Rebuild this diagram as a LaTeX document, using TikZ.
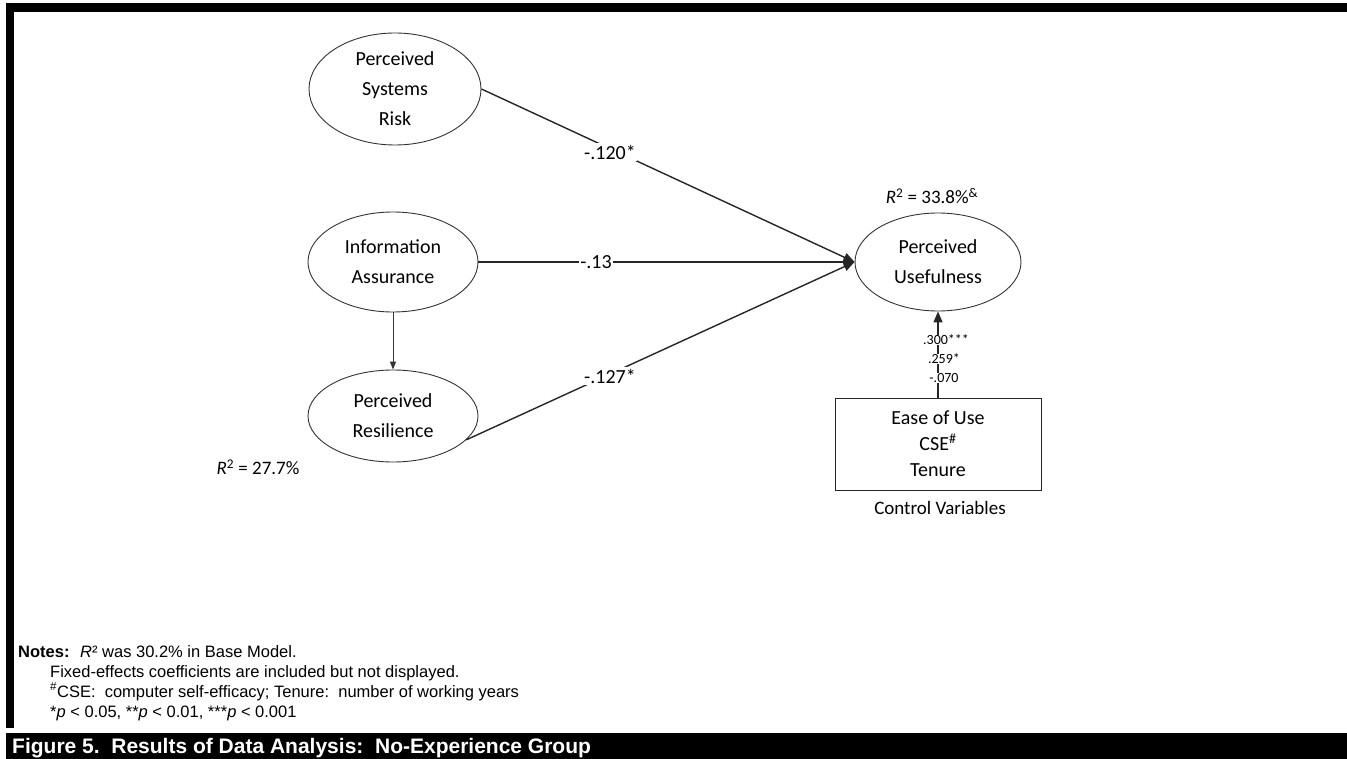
\documentclass[tikz,border=0pt]{standalone}
\usepackage{fontspec}
\setmainfont{Carlito}
\newfontfamily\arialfont{Liberation Sans}
\usetikzlibrary{shapes.geometric,arrows.meta}
\begin{document}
\begin{tikzpicture}[x=1pt,y=-1pt,
  latent/.style={ellipse,draw=black!80,line width=0.9pt,inner sep=0pt},
  lattext/.style={align=center,inner sep=0pt,font=\fontsize{20}{30}\selectfont},
  ctrlbox/.style={rectangle,draw=black!85,line width=0.9pt,minimum width=206pt,minimum height=92pt,
    align=center,font=\fontsize{20}{26}\selectfont},
  effect/.style={draw=black!85,line width=1.4pt,-{Triangle[length=11pt,width=9pt]}},
  thineffect/.style={draw=black!80,line width=1pt,-{Triangle[length=8pt,width=6pt]}},
  coef/.style={fill=white,inner sep=1.5pt,font=\fontsize{20}{22}\selectfont},
  smallcoef/.style={fill=white,inner sep=0.3pt,font=\fontsize{14}{15}\selectfont},
  plain/.style={inner sep=0pt,font=\fontsize{19}{22}\selectfont},
  note/.style={anchor=base west,inner sep=0pt,font=\arialfont\fontsize{16.5}{20}\selectfont}]
\useasboundingbox (0,0) rectangle (1347,759);

% frame bars
\fill (6,3) rectangle (1347,12);
\fill (6,3) rectangle (14,728);
\fill (6,733) rectangle (1347,759);

% constructs
\node[latent,minimum width=172pt,minimum height=112pt,
  label={[lattext]center:Perceived\\Systems\\Risk}] (psr) at (395,89) {};
\node[latent,minimum width=170pt,minimum height=100pt,
  label={[lattext]center:Information\\Assurance}] (ia) at (393,262) {};
\node[latent,minimum width=170pt,minimum height=92pt,
  label={[lattext]center:Perceived\\Resilience}] (pr) at (393,416) {};
\node[latent,minimum width=166pt,minimum height=98pt,
  label={[lattext]center:Perceived\\Usefulness}] (pu) at (938,262) {};
\node[ctrlbox] (cv) at (938,444) {Ease of Use\\CSE\textsuperscript{\#}\\Tenure};
\node[plain] (cvlabel) at (940,508) {Control Variables};

% paths
\draw[effect] (psr.east) -- (pu.west);
\draw[effect] (ia.east) -- (pu.west);
\draw[effect] (pr.-18) -- (pu.west);
\draw[thineffect] (ia) -- (pr);
\draw[effect] (cv) -- (pu);

% coefficients
\node[coef] (c1) at (610,152) {-.120*};
\node[coef] (c2) at (596,262) {-.13};
\node[coef] (c3) at (610,376) {-.127*};
\node[smallcoef] (c4) at (946,340) {.300***};
\node[smallcoef] (c5) at (944,359) {.259*};
\node[smallcoef] (c6) at (944,378) {-.070};

% explained variance
\node[plain] (r2pu) at (932,196) {\textit{R}\textsuperscript{2} = 33.8\%\textsuperscript{\&}};
\node[plain] (r2pr) at (258,467) {\textit{R}\textsuperscript{2} = 27.7\%};

% notes
\node[note,font=\arialfont\bfseries\fontsize{16.5}{20}\selectfont] (notes) at (18,657) {Notes:};
\node[note] (n1) at (80,657) {\textit{R}² was 30.2\% in Base Model.};
\node[note] (n2) at (50,677) {Fixed-effects coefficients are included but not displayed.};
\node[note] (n3) at (50,697) {\textsuperscript{\#}CSE:\ \ computer self-efficacy; Tenure:\ \ number of working years};
\node[note] (n4) at (50,717) {*\textit{p} < 0.05, **\textit{p} < 0.01, ***\textit{p} < 0.001};

% caption bar text
\node[anchor=base west,inner sep=0pt,text=white,font=\arialfont\bfseries\fontsize{21}{24}\selectfont] (caption)
  at (12,753) {Figure 5.\ \ Results of Data Analysis:\ \ No-Experience Group};
\end{tikzpicture}
\end{document}
